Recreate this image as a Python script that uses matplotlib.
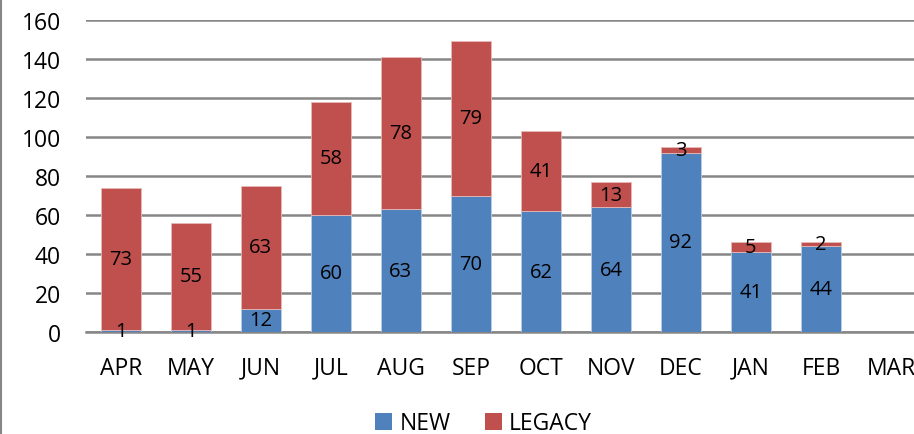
import matplotlib
matplotlib.use("Agg")
import matplotlib.pyplot as plt
from matplotlib.patches import Patch
from matplotlib.lines import Line2D

months = ["APR", "MAY", "JUN", "JUL", "AUG", "SEP", "OCT", "NOV", "DEC", "JAN", "FEB", "MAR"]
new_vals = [1, 1, 12, 60, 63, 70, 62, 64, 92, 41, 44]
legacy_vals = [73, 55, 63, 58, 78, 79, 41, 13, 3, 5, 2]
yticks = [0, 20, 40, 60, 80, 100, 120, 140, 160]

BLUE = "#4F81BD"
RED = "#C0504D"
GRID = "#868686"

plt.rcParams['font.family'] = ['Open Sans', 'DejaVu Sans']

fig = plt.figure(figsize=(9.14, 4.35), dpi=100)
ax = fig.add_axes([0.094, 0.2345, 0.919, 0.7172])

x = list(range(len(new_vals)))
w = 0.57
ax.bar(x, new_vals, width=w, color=BLUE, edgecolor="#B9CDE5", linewidth=0.6, zorder=3)
ax.bar(x, legacy_vals, width=w, bottom=new_vals, color=RED, edgecolor="#E6B9B8", linewidth=0.6, zorder=3)

for i, (n, l) in enumerate(zip(new_vals, legacy_vals)):
    ax.text(i, n / 2, str(n), ha="center", va="center", fontsize=14.5, color="black", zorder=4)
    ax.text(i, n + l / 2, str(l), ha="center", va="center", fontsize=14.5, color="black", zorder=4)

ax.set_xlim(-0.5, len(months) - 0.5)
ax.set_ylim(0, 160)
ax.set_yticks(yticks)
ax.set_xticks(range(len(months)))
ax.set_xticklabels(months)
ax.tick_params(axis="both", length=0, labelsize=16.5)
ax.tick_params(axis="x", pad=17)
ax.tick_params(axis="y", pad=18)
ax.grid(axis="y", color=GRID, linewidth=1.8, zorder=0)
ax.set_axisbelow(True)
for s in ["top", "right", "left"]:
    ax.spines[s].set_visible(False)
ax.spines["bottom"].set_color(GRID)
ax.spines["bottom"].set_linewidth(1.8)

handles = [Patch(facecolor=BLUE, label="NEW"), Patch(facecolor=RED, label="LEGACY")]
fig.legend(handles=handles, loc="center", bbox_to_anchor=(0.529, 0.025), ncol=2, frameon=False,
           fontsize=16.5, handlelength=0.75, handleheight=0.75, handletextpad=0.3, columnspacing=1.5)

fig.add_artist(Line2D([0.0015, 0.0015], [0, 1], transform=fig.transFigure, color="#868686", linewidth=1.5))

fig.savefig("out.png", dpi=100)
